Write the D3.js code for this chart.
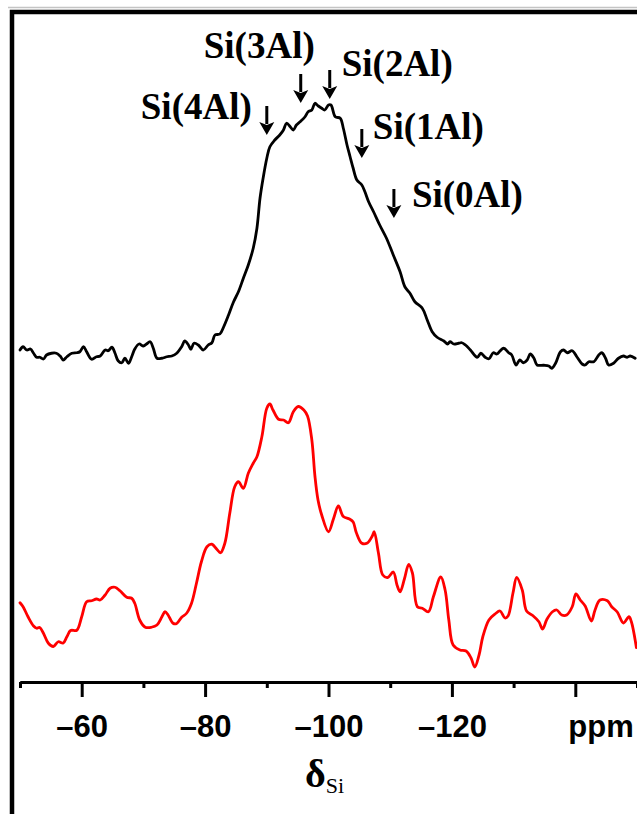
<!DOCTYPE html>
<html>
<head>
<meta charset="utf-8">
<script src="https://cdn.jsdelivr.net/npm/d3@7"></script>
<style>
  html, body { margin: 0; padding: 0; background: #fff; }
  svg { display: block; }
</style>
</head>
<body>
<svg id="chart" width="637" height="814"></svg>
<script>
// Axis ticks (ppm) and their labels
const majorTicks = [-60, -80, -100, -120, -140];
const minorTicks = [-50, -70, -90, -110, -130, -150];
const tickLabels = ["–60", "–80", "–100", "–120", ""];
const unitLabel = "ppm";

// Upper spectrum (black): chemical shift (ppm) and intensity (a.u.)
const upperShift = [-50.0,-50.5,-51.1,-51.7,-52.2,-52.7,-53.2,-53.8,-54.3,-55.1,
  -55.9,-56.5,-57.0,-57.6,-58.4,-59.2,-59.7,-60.3,-60.8,-61.6,
  -62.4,-63.0,-63.8,-64.3,-64.9,-65.4,-65.9,-66.5,-67.0,-67.6,
  -68.1,-68.6,-69.3,-70.0,-70.5,-71.1,-71.6,-72.2,-73.0,-73.8,
  -74.6,-75.4,-76.2,-76.7,-77.3,-77.7,-78.2,-78.9,-79.7,-80.5,
  -81.1,-81.6,-82.4,-83.0,-83.8,-84.6,-85.4,-86.2,-87.0,-87.8,
  -88.4,-88.9,-89.4,-90.0,-90.5,-91.3,-92.1,-92.7,-93.2,-93.8,
  -94.3,-94.8,-95.4,-96.2,-96.7,-97.3,-97.8,-98.3,-98.9,-99.4,
  -100.0,-100.4,-101.1,-101.9,-102.4,-103.0,-103.5,-104.0,-104.6,-105.4,
  -105.9,-106.5,-107.3,-108.3,-109.4,-110.5,-111.6,-112.4,-113.2,-114.0,
  -115.2,-116.0,-116.8,-117.6,-118.7,-119.3,-119.7,-120.3,-121.1,-121.6,
  -122.2,-123.0,-124.1,-124.7,-125.4,-126.0,-126.7,-127.3,-127.8,-128.4,
  -129.2,-129.7,-130.4,-131.0,-131.6,-132.2,-132.7,-133.3,-133.8,-134.9,
  -135.7,-136.2,-136.8,-137.6,-138.1,-138.7,-139.5,-140.3,-141.1,-141.6,
  -142.2,-143.0,-143.8,-144.3,-144.9,-145.4,-146.2,-147.0,-147.8,-148.4,
  -148.9,-149.7];
const upperIntensity = [2.0,3.3,2.0,2.4,0.7,-0.9,-0.9,-1.6,0.0,0.7,
  0.7,-0.4,-2.0,-0.7,0.7,0.9,1.3,3.3,1.3,-1.7,
  -0.7,-0.4,2.0,1.7,3.1,0.7,-2.3,-3.1,-1.3,-3.3,
  -0.7,2.4,4.4,3.6,4.4,5.3,2.7,-1.3,-1.3,-0.7,
  -0.4,0.7,3.3,5.6,4.0,2.3,4.7,4.0,2.0,4.0,
  4.9,8.0,8.4,11.2,16.0,21.2,25.3,30.7,36.0,42.7,
  50.7,62.7,70.7,78.7,83.3,86.0,88.0,90.0,92.7,91.3,
  90.0,92.0,93.3,95.3,97.3,98.0,100.7,99.7,98.7,98.0,
  100.0,100.0,95.3,94.7,90.7,84.0,79.3,74.7,70.0,68.0,
  65.3,61.3,57.3,52.0,46.7,40.0,33.3,27.2,24.7,21.3,
  18.7,14.0,9.3,7.1,5.6,4.4,5.3,4.4,4.7,4.9,
  4.0,2.0,-0.9,0.7,-0.9,-1.5,0.9,0.4,1.6,2.7,
  0.9,0.0,-4.0,-2.0,-3.1,-2.0,0.4,-1.3,-4.0,-4.1,
  -4.4,-5.3,-3.3,1.3,2.0,0.9,1.7,-0.9,-3.6,-4.0,
  -2.7,-2.7,0.0,0.9,-1.3,-4.0,-3.3,-1.3,-0.4,-0.9,
  -0.4,-1.3];

// Lower spectrum (red): chemical shift (ppm) and intensity (a.u.)
const lowerShift = [-50.0,-50.5,-51.3,-52.2,-52.7,-53.2,-53.8,-54.6,-55.4,-56.2,
  -57.0,-57.6,-58.2,-59.2,-60.0,-60.8,-61.6,-62.4,-63.0,-63.8,
  -64.6,-65.4,-66.2,-67.3,-68.1,-68.6,-69.4,-70.3,-71.3,-72.2,
  -73.0,-73.5,-74.0,-74.8,-75.4,-76.2,-77.0,-77.8,-78.6,-79.4,
  -80.3,-81.1,-81.9,-82.5,-83.2,-84.0,-84.8,-85.4,-86.2,-87.0,
  -87.8,-88.4,-89.2,-90.0,-90.5,-91.0,-91.9,-92.7,-93.5,-94.3,
  -95.1,-96.0,-96.6,-97.3,-97.8,-98.3,-98.9,-100.0,-100.8,-101.6,
  -102.4,-103.4,-104.0,-104.5,-105.4,-106.3,-107.1,-107.4,-108.1,-108.8,
  -109.6,-110.5,-111.1,-111.6,-112.3,-113.0,-113.6,-114.4,-115.2,-116.2,
  -117.0,-118.2,-118.9,-119.5,-120.2,-121.3,-122.3,-123.1,-123.7,-124.4,
  -125.0,-126.0,-127.0,-127.8,-128.6,-129.1,-129.9,-130.5,-131.4,-132.1,
  -133.1,-134.1,-134.7,-135.4,-136.3,-137.0,-137.8,-138.6,-139.5,-140.1,
  -140.8,-141.6,-142.6,-143.2,-144.0,-145.2,-145.9,-146.8,-147.8,-148.7,
  -149.1,-149.9];
const lowerIntensity = [22.9,21.3,17.3,13.6,12.7,13.0,10.7,6.7,5.4,7.3,
  6.8,9.3,11.8,11.9,17.3,23.3,23.7,24.4,24.0,26.0,
  28.7,29.1,27.7,25.1,24.7,22.7,16.0,13.1,13.1,14.0,
  17.3,19.3,18.0,14.7,14.6,17.1,18.7,22.7,30.7,39.3,
  45.3,46.3,44.3,42.9,46.7,58.7,69.3,71.3,68.7,74.7,
  78.7,81.3,89.3,100.7,102.4,100.0,96.3,96.0,94.9,99.3,
  101.4,100.0,97.6,88.0,73.6,64.0,58.0,51.3,56.4,61.6,
  57.4,56.4,55.2,51.0,46.7,46.8,49.6,51.3,42.7,34.0,
  33.0,35.2,30.0,27.3,32.4,38.2,34.8,21.3,20.7,19.3,
  25.3,33.2,28.0,16.0,6.0,4.0,3.6,0.8,-2.8,2.0,
  9.2,16.0,18.4,19.6,16.8,17.6,26.8,33.0,28.0,19.6,
  17.8,15.3,12.4,16.3,19.3,20.0,18.0,18.0,21.3,26.4,
  24.0,21.6,15.6,20.0,24.0,23.7,21.3,19.2,14.8,17.3,
  15.2,5.0];

// Vertical stacking of the upper spectrum above the lower one (intensity units)
const upperOffset = 122;

// Site assignments marked on the upper spectrum
const siteLabels = ["Si(4Al)", "Si(3Al)", "Si(2Al)", "Si(1Al)", "Si(0Al)"];
const siteShift = [-90.0, -95.5, -100.2, -105.4, -110.6];
const siteArrowEnd = [88.0, 100.8, 102.4, 78.8, 54.8];

const svg = d3.select("#chart");
const W = 637, H = 814;

const x = d3.scaleLinear().domain([-50, -150]).range([20, 637]);
const y = d3.scaleLinear().domain([0, 100]).range([660, 410]);

// Outer frame
svg.append("line").attr("x1", 8).attr("x2", W).attr("y1", 7.5).attr("y2", 7.5)
  .attr("stroke", "#c4c4c4").attr("stroke-width", 1.5);
svg.append("path")
  .attr("d", `M12,${H} L12,12 L${W},12`)
  .attr("fill", "none").attr("stroke", "#000").attr("stroke-width", 4.5);

// Spectra
const line = d3.line().curve(d3.curveCatmullRom.alpha(0.5));

const upperPts = upperShift.map((s, i) => [x(s), y(upperIntensity[i] + upperOffset)]);
const lowerPts = lowerShift.map((s, i) => [x(s), y(lowerIntensity[i])]);

svg.append("path").attr("d", line(upperPts))
  .attr("fill", "none").attr("stroke", "#000").attr("stroke-width", 2.8)
  .attr("stroke-linejoin", "round").attr("stroke-linecap", "round");

svg.append("path").attr("d", line(lowerPts))
  .attr("fill", "none").attr("stroke", "#ff0000").attr("stroke-width", 2.8)
  .attr("stroke-linejoin", "round").attr("stroke-linecap", "round");

// Axis
const axisY = 682;
const minorAxis = svg.append("g").attr("transform", `translate(0,${axisY})`)
  .call(d3.axisBottom(x).tickValues(minorTicks).tickSize(6).tickSizeOuter(0).tickFormat(""));
const majorAxis = svg.append("g").attr("transform", `translate(0,${axisY})`)
  .call(d3.axisBottom(x).tickValues(majorTicks).tickSize(15).tickSizeOuter(0)
    .tickFormat((d, i) => tickLabels[i]));

[minorAxis, majorAxis].forEach(g => {
  g.select(".domain").attr("stroke", "#000").attr("stroke-width", 3);
  g.selectAll(".tick line").attr("stroke", "#000").attr("stroke-width", 3);
});
majorAxis.selectAll(".tick text")
  .attr("y", 55).attr("dy", null)
  .attr("fill", "#000")
  .style("font-family", "'Liberation Sans', Arial, Helvetica, sans-serif")
  .style("font-weight", "bold").style("font-size", "31px");

svg.append("text")
  .attr("x", x(-140) - 7).attr("y", axisY + 55)
  .attr("text-anchor", "start")
  .style("font-family", "'Liberation Sans', Arial, Helvetica, sans-serif")
  .style("font-weight", "bold").style("font-size", "31px")
  .text(unitLabel);

// Axis title: δSi
const title = svg.append("text")
  .attr("x", 305).attr("y", 787)
  .style("font-family", "'Liberation Serif', 'Times New Roman', serif");
title.append("tspan").style("font-size", "40px").style("font-weight", "bold").text("δ");
title.append("tspan").attr("dy", 6).style("font-size", "22px").text("Si");

// Site arrows and labels
const labelPlace = [
  { anchor: "end", dx: -15, dy: -16 },
  { anchor: "end", dx: 14, dy: -45 },
  { anchor: "start", dx: 12, dy: -23 },
  { anchor: "start", dx: 11, dy: -19 },
  { anchor: "start", dx: 18, dy: -11 }
];
const arrowLen = 29, headH = 13, headW = 15;

siteLabels.forEach((name, i) => {
  const ax = x(siteShift[i]);
  const tip = y(siteArrowEnd[i] + upperOffset);
  const g = svg.append("g");
  g.append("line")
    .attr("x1", ax).attr("x2", ax)
    .attr("y1", tip - arrowLen).attr("y2", tip - headH + 2)
    .attr("stroke", "#000").attr("stroke-width", 3);
  g.append("path")
    .attr("d", `M${ax - headW / 2},${tip - headH} L${ax},${tip - headH + 3} L${ax + headW / 2},${tip - headH} L${ax},${tip} Z`)
    .attr("fill", "#000");
  g.append("text")
    .attr("x", ax + labelPlace[i].dx).attr("y", tip + labelPlace[i].dy)
    .attr("text-anchor", labelPlace[i].anchor)
    .style("font-family", "'Liberation Serif', 'Times New Roman', serif")
    .style("font-weight", "bold").style("font-size", "37px")
    .text(name);
});
</script>
</body>
</html>
